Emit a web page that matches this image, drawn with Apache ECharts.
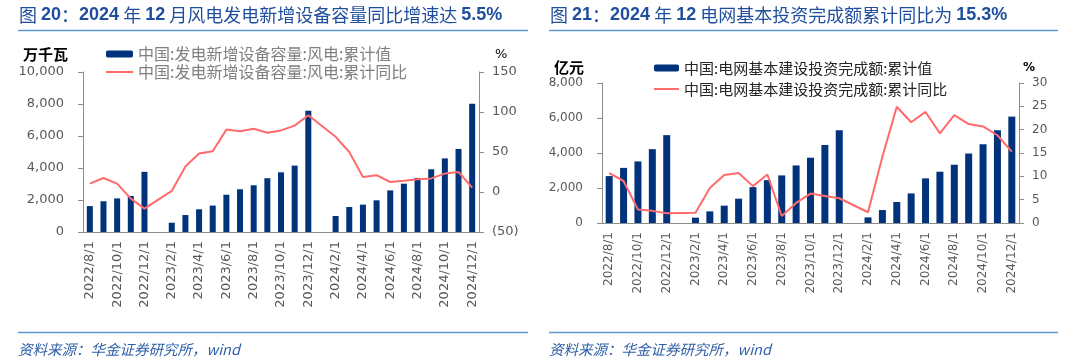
<!DOCTYPE html>
<html><head><meta charset="utf-8">
<script src="https://cdn.jsdelivr.net/npm/echarts@6/dist/echarts.min.js"></script>
<style>html,body{margin:0;padding:0;background:#fff}#c{width:1080px;height:363px}</style>
</head><body><div id="c"></div>
<script>
const categories = ['2022/8/1','2022/9/1','2022/10/1','2022/11/1','2022/12/1',
  '2023/1/1','2023/2/1','2023/3/1','2023/4/1','2023/5/1','2023/6/1','2023/7/1','2023/8/1','2023/9/1','2023/10/1','2023/11/1','2023/12/1',
  '2024/1/1','2024/2/1','2024/3/1','2024/4/1','2024/5/1','2024/6/1','2024/7/1','2024/8/1','2024/9/1','2024/10/1','2024/11/1','2024/12/1'];
// Chart 1: wind new capacity (万千瓦) and YoY (%)
const windCapacity = [1620,1920,2100,2250,3760, null,580,1060,1420,1650,2330,2670,2920,3360,3730,4150,7580, null,1000,1560,1710,1980,2600,3020,3380,3920,4600,5190,8020];
const windYoY = [10.4,17.5,10.4,-8.3,-20.8, null,1.3,32,48,51,78,76,79,74,77,83,96, null,69,50,18.8,21,12.5,14,16,17,23,25,5.5];
// Chart 2: grid investment (亿元) and YoY (%)
const gridInvest = [2680,3150,3520,4220,5020, null,305,665,990,1390,2050,2450,2720,3290,3730,4460,5300, null,320,740,1200,1690,2550,2930,3330,3970,4500,5300,6080];
const gridYoY = [10.7,9.0,2.9,2.6,2.1, null,2.2,7.5,10.3,10.7,7.9,10.4,1.5,4.3,6.3,5.8,5.3, null,2.3,14.2,24.9,21.6,23.8,19.2,23.1,21.2,20.7,18.8,15.3];

const name1a = '中国:发电新增设备容量:风电:累计值';
const name1b = '中国:发电新增设备容量:风电:累计同比';
const name2a = '中国:电网基本建设投资完成额:累计值';
const name2b = '中国:电网基本建设投资完成额:累计同比';

const BAR = '#00337c', LINE = '#ff6b6b', AX = '#8c8c8c', LBL = '#595959';
const NUMF = "'DejaVu Sans', sans-serif";
const CJK = "'Noto Sans CJK SC', sans-serif";

function commas(v){ return String(v).replace(/\B(?=(\d{3})+(?!\d))/g, ','); }
function paren(v){ return v < 0 ? '(' + Math.abs(v) + ')' : String(v); }

function xAxisCfg(gi, fs){
  return { type:'category', gridIndex:gi, data:categories, boundaryGap:true,
    axisLine:{lineStyle:{color:AX}}, axisTick:{interval:1, length:5, lineStyle:{color:AX}},
    axisLabel:{interval:1, rotate:90, margin:9, color:LBL, fontSize:fs, fontFamily:NUMF} };
}
function yAxisCfg(gi, pos, min, max, iv, fmt, fs, margin){
  return { type:'value', gridIndex:gi, position:pos, min:min, max:max, interval:iv,
    splitLine:{show:false},
    axisLine:{show:true, lineStyle:{color:AX}}, axisTick:{show:true, length:5, lineStyle:{color:AX}},
    axisLabel:{formatter:fmt, color:LBL, fontSize:fs, fontFamily:NUMF, margin:margin} };
}
const noSym = {color:'rgba(0,0,0,0)', borderWidth:0, opacity:0};
const TITLE_C = '#1f4e9e', SEP_C = '#5b9bd5', SRC_C = '#2e5fa8';

const chart = echarts.init(document.getElementById('c'), null, {renderer:'canvas'});
chart.setOption({
  animation:false,
  backgroundColor:'#fff',
  grid:[
    {left:83, top:72, width:396, height:160},
    {left:602, top:83, width:417, height:140}
  ],
  xAxis:[ xAxisCfg(0, 13), xAxisCfg(1, 12) ],
  yAxis:[
    yAxisCfg(0,'left',0,10000,2000,commas,13,19),
    yAxisCfg(0,'right',-50,150,50,paren,13,13),
    yAxisCfg(1,'left',0,8000,2000,commas,12,19),
    yAxisCfg(1,'right',0,30,5,paren,12,13)
  ],
  legend:[
    {data:[{name:name1a},{name:name1b, itemStyle:noSym}], orient:'vertical', left:105, top:46, padding:0,
     itemWidth:27, itemHeight:7, itemGap:2,
     textStyle:{color:'#808080', fontSize:16, fontFamily:CJK, lineHeight:16}},
    {data:[{name:name2a},{name:name2b, itemStyle:noSym}], orient:'vertical', left:653, top:60, padding:0,
     itemWidth:25, itemHeight:7, itemGap:5,
     textStyle:{color:'#262626', fontSize:15, fontFamily:CJK, lineHeight:16}}
  ],
  series:[
    {name:name1a, type:'bar', xAxisIndex:0, yAxisIndex:0, data:windCapacity, barWidth:6, itemStyle:{color:BAR}},
    {name:name1b, type:'line', xAxisIndex:0, yAxisIndex:1, data:windYoY, symbol:'none', connectNulls:true, lineStyle:{color:LINE, width:2}, itemStyle:{color:LINE}},
    {name:name2a, type:'bar', xAxisIndex:1, yAxisIndex:2, data:gridInvest, barWidth:7, itemStyle:{color:BAR}},
    {name:name2b, type:'line', xAxisIndex:1, yAxisIndex:3, data:gridYoY, symbol:'none', connectNulls:true, lineStyle:{color:LINE, width:2}, itemStyle:{color:LINE}}
  ],
  graphic:[
    {type:'text', left:19, top:6, style:{text:'图 {n|20}：{n|2024} 年 {n|12} 月风电发电新增设备容量同比增速达 {n|5.5%}', fill:TITLE_C, fontSize:18, fontFamily:CJK,
      rich:{n:{fontWeight:'bold', fontSize:18, fontFamily:"'Liberation Sans', sans-serif", fill:TITLE_C}}}},
    {type:'text', left:550, top:6, style:{text:'图 {n|21}：{n|2024} 年 {n|12} 电网基本投资完成额累计同比为 {n|15.3%}', fill:TITLE_C, fontSize:18, fontFamily:CJK,
      rich:{n:{fontWeight:'bold', fontSize:18, fontFamily:"'Liberation Sans', sans-serif", fill:TITLE_C}}}},
    {type:'line', shape:{x1:18, y1:30.5, x2:528, y2:30.5}, style:{stroke:SEP_C, lineWidth:1.5}},
    {type:'line', shape:{x1:549, y1:30.5, x2:1058, y2:30.5}, style:{stroke:SEP_C, lineWidth:1.5}},
    {type:'line', shape:{x1:18, y1:332.5, x2:528, y2:332.5}, style:{stroke:SEP_C, lineWidth:1.5}},
    {type:'line', shape:{x1:549, y1:332.5, x2:1058, y2:332.5}, style:{stroke:SEP_C, lineWidth:1.5}},
    {type:'text', left:18, top:342, style:{text:'资料来源：华金证券研究所，wind', fill:SRC_C, fontSize:14.5, fontStyle:'italic', fontFamily:CJK}},
    {type:'text', left:549, top:342, style:{text:'资料来源：华金证券研究所，wind', fill:SRC_C, fontSize:14.5, fontStyle:'italic', fontFamily:CJK}},
    {type:'text', left:23, top:47, style:{text:'万千瓦', fill:'#000', fontSize:15, fontWeight:'bold', fontFamily:CJK}},
    {type:'text', left:495, top:48, style:{text:'%', fill:'#000', fontSize:13, fontFamily:NUMF}},
    {type:'text', left:554, top:60, style:{text:'亿元', fill:'#000', fontSize:15, fontWeight:'bold', fontFamily:CJK}},
    {type:'text', left:1023, top:62, style:{text:'%', fill:'#000', fontSize:12, fontWeight:'bold', fontFamily:NUMF}}
  ]
});
</script>
</body></html>
